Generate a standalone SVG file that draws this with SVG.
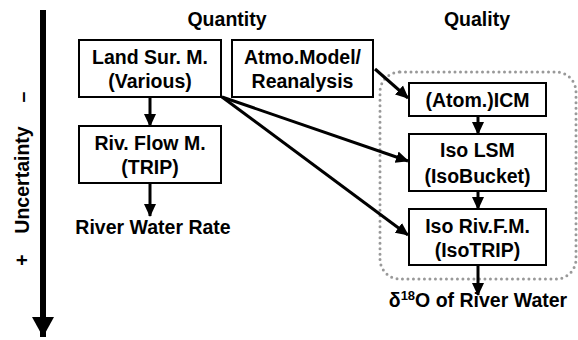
<svg xmlns="http://www.w3.org/2000/svg" width="578" height="340" viewBox="0 0 578 340">
<style>
text{font-family:"Liberation Sans",Arial,sans-serif;font-weight:bold;font-size:19.5px;fill:#000;text-anchor:middle}
.box{fill:#fff;stroke:#000;stroke-width:2}
.conn{stroke:#000;stroke-width:3;fill:none}
</style>
<defs>
<marker id="ah" markerUnits="userSpaceOnUse" markerWidth="14" markerHeight="14" viewBox="0 0 14 14" refX="12" refY="7" orient="auto">
<path d="M0,1 L13,7 L0,13 Z" fill="#000"/>
</marker>
<marker id="big" markerUnits="userSpaceOnUse" markerWidth="22" markerHeight="22" viewBox="0 0 22 22" refX="20" refY="11" orient="auto">
<path d="M0,0 L20,11 L0,22 Z" fill="#000"/>
</marker>
</defs>
<rect width="578" height="340" fill="#fff"/>
<g id="uncertainty-axis">
<line x1="43" y1="10" x2="43" y2="337" stroke="#000" stroke-width="6" marker-end="url(#big)"/>
<text transform="translate(29,180) rotate(-90)">Uncertainty</text>
<text transform="translate(29,97) rotate(-90)">–</text>
<text transform="translate(29,260) rotate(-90)">+</text>
</g>
<g id="headers">
<text x="227" y="26">Quantity</text>
<text x="477" y="26">Quality</text>
</g>
<g id="isotope-group">
<rect x="380" y="72" width="196" height="207" rx="20" fill="none" stroke="#999" stroke-width="3" stroke-dasharray="0 5.5" stroke-linecap="round"/>
</g>
<g id="connectors">
<line class="conn" x1="150" y1="97" x2="150" y2="126" marker-end="url(#ah)"/>
<line class="conn" x1="150" y1="183" x2="150" y2="216" marker-end="url(#ah)"/>
<line class="conn" x1="222" y1="97" x2="408" y2="161" marker-end="url(#ah)"/>
<line class="conn" x1="222" y1="97" x2="408" y2="235" marker-end="url(#ah)"/>
<line class="conn" x1="375" y1="69" x2="408" y2="98" marker-end="url(#ah)"/>
<line class="conn" x1="478" y1="116" x2="478" y2="134" marker-end="url(#ah)"/>
<line class="conn" x1="478" y1="191" x2="478" y2="209" marker-end="url(#ah)"/>
<line class="conn" x1="478" y1="265" x2="478" y2="295" marker-end="url(#ah)"/>
</g>
<g id="land-surface-model">
<rect class="box" x="79" y="40" width="142" height="57"/>
<text x="150" y="64">Land Sur. M.</text>
<text x="150" y="88">(Various)</text>
</g>
<g id="atmo-model">
<rect class="box" x="232" y="40" width="141" height="57"/>
<text x="302.5" y="64">Atmo.Model/</text>
<text x="302.5" y="88">Reanalysis</text>
</g>
<g id="river-flow-model">
<rect class="box" x="79" y="126" width="142" height="57"/>
<text x="150" y="150">Riv. Flow M.</text>
<text x="150" y="174">(TRIP)</text>
</g>
<g id="river-water-rate">
<text x="153" y="234">River Water Rate</text>
</g>
<g id="icm">
<rect class="box" x="409" y="83" width="137" height="33"/>
<text x="477.5" y="107">(Atom.)ICM</text>
</g>
<g id="iso-lsm">
<rect class="box" x="409" y="134" width="137" height="57"/>
<text x="477.5" y="157">Iso LSM</text>
<text x="477.5" y="183">(IsoBucket)</text>
</g>
<g id="iso-riv">
<rect class="box" x="409" y="209" width="137" height="56"/>
<text x="477.5" y="233">Iso Riv.F.M.</text>
<text x="477.5" y="257">(IsoTRIP)</text>
</g>
<g id="d18o">
<text x="478" y="307">δ<tspan font-size="13" dy="-7">18</tspan><tspan dy="7">O of River Water</tspan></text>
</g>
</svg>
